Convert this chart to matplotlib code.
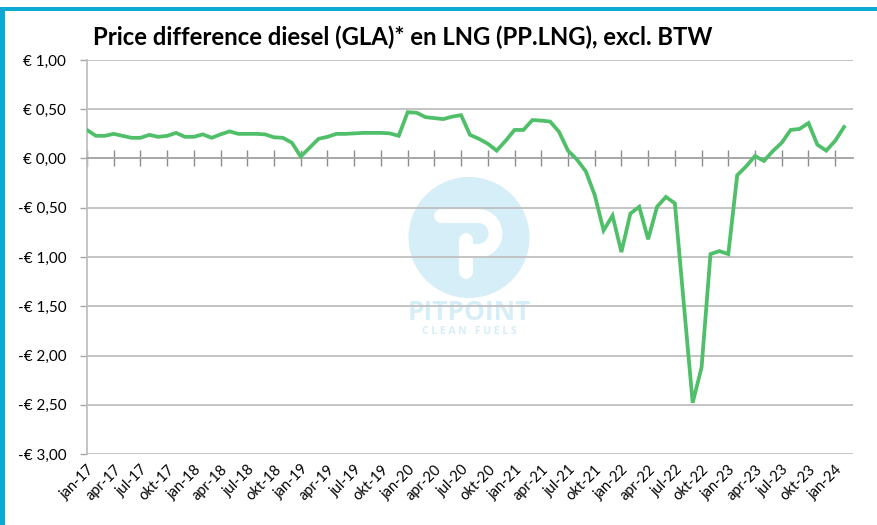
import numpy as np
import matplotlib
matplotlib.use("Agg")
import matplotlib.pyplot as plt
from matplotlib.patches import Circle, Rectangle

# ---------------- data ----------------
title = "Price difference diesel (GLA)* en LNG (PP.LNG), excl. BTW"

# monthly values jan-17 .. feb-24 (EUR)
price_diff = [
    0.29, 0.23, 0.23, 0.25, 0.23, 0.21, 0.21, 0.24, 0.22, 0.23, 0.26, 0.22,   # 2017
    0.22, 0.245, 0.21, 0.245, 0.275, 0.25, 0.25, 0.25, 0.245, 0.215, 0.21, 0.16,  # 2018
    0.02, 0.11, 0.20, 0.22, 0.25, 0.25, 0.255, 0.26, 0.26, 0.26, 0.255, 0.23,  # 2019
    0.47, 0.465, 0.42, 0.41, 0.40, 0.425, 0.44, 0.24, 0.20, 0.15, 0.08, 0.18,  # 2020
    0.29, 0.29, 0.39, 0.385, 0.375, 0.27, 0.08, -0.01, -0.13, -0.37, -0.73, -0.58,  # 2021
    -0.95, -0.56, -0.49, -0.82, -0.49, -0.39, -0.455, -1.47, -2.48, -2.12, -0.97, -0.94,  # 2022
    -0.97, -0.17, -0.08, 0.025, -0.025, 0.075, 0.16, 0.29, 0.30, 0.36, 0.14, 0.08,  # 2023
    0.18, 0.32,  # 2024
]

tick_labels = []
for yy in range(17, 25):
    for m in ["jan", "apr", "jul", "okt"]:
        tick_labels.append(f"{m}-{yy}")
tick_labels = tick_labels[:29]  # jan-17 .. jan-24
tick_pos = np.arange(len(tick_labels)) * 3

y_ticks = [1.0, 0.5, 0.0, -0.5, -1.0, -1.5, -2.0, -2.5, -3.0]


def eur(v):
    s = f"{abs(v):.2f}".replace(".", ",")
    return ("-€ " if v < 0 else "€ ") + s


# ---------------- style ----------------
W, H = 877, 525
FONT = "Lato"
GREEN = "#4fbf69"
GRID = "#bfbfbf"
CYAN = "#0aaad2"
WM = "#d6eef7"

fig = plt.figure(figsize=(W / 100, H / 100), dpi=100)
fig.patch.set_facecolor("white")

# background overlay in pixel coordinates (frame + watermark)
bg = fig.add_axes([0, 0, 1, 1], zorder=0)
bg.set_xlim(0, W)
bg.set_ylim(H, 0)
bg.axis("off")
bg.add_patch(Rectangle((0, 7), W, 4, color=CYAN, lw=0))
bg.add_patch(Rectangle((0, 7), 5, H - 7, color=CYAN, lw=0))

# watermark logo
bg.add_patch(Circle((469, 237.5), 60.5, color=WM, lw=0))
t = np.linspace(-np.pi / 2, np.pi / 2, 40)
bowl_x = np.concatenate([[441, 478], 478 + 17.5 * np.cos(t)[::-1], [466]])
bowl_y = np.concatenate([[216, 216], 233.5 - 17.5 * np.sin(t)[::-1], [251]])
bg.plot(bowl_x, bowl_y, color="white", lw=10, solid_capstyle="round",
        solid_joinstyle="round")
bg.plot([466, 466], [240, 272], color="white", lw=10, solid_capstyle="round")
bg.text(469, 313, "PITPOINT", color=WM, fontsize=19, family="Open Sans",
        fontweight="bold", ha="center", va="center")
bg.text(469, 331, "C L E A N   F U E L S", color=WM, fontsize=7.5,
        family="Open Sans", fontweight="bold", ha="center", va="center")

fig.text(93 / W, 1 - 37 / H, title, fontsize=17.2, fontweight="bold",
         family=FONT, ha="left", va="center")

# main axes
left, right, top, bottom = 87, 853, 60, 454
ax = fig.add_axes([left / W, 1 - bottom / H, (right - left) / W, (bottom - top) / H],
                  zorder=1)
ax.set_facecolor("none")

x = np.arange(len(price_diff))
ax.plot(x, price_diff, color=GREEN, lw=2.7, solid_joinstyle="miter", zorder=3)

ax.set_xlim(0, 86)
ax.set_ylim(-3.0, 1.0)
ax.set_yticks(y_ticks)
ax.set_yticklabels([eur(v) for v in y_ticks], family=FONT, fontsize=11)
ax.yaxis.grid(True, color=GRID, lw=1.3)
ax.set_axisbelow(True)

for s in ["top", "right"]:
    ax.spines[s].set_visible(False)
ax.spines["left"].set_color(GRID)
ax.spines["left"].set_linewidth(1.3)
ax.tick_params(axis="y", length=5, width=1.0, color="#a6a6a6", pad=10)

# x axis crossing at zero with crossing tick marks
ax.spines["bottom"].set_position(("data", 0))
ax.spines["bottom"].set_color("#a6a6a6")
ax.spines["bottom"].set_linewidth(1.3)
ax.set_xticks(tick_pos)
ax.tick_params(axis="x", direction="inout", length=11, width=1.0,
               color="#8c8c8c", labelbottom=False)

sec = ax.secondary_xaxis("bottom")
sec.set_xticks(tick_pos)
sec.set_xticklabels(tick_labels, rotation=45, ha="right", rotation_mode="anchor",
                    family=FONT, fontsize=10.5)
sec.tick_params(length=0, pad=6)
sec.spines["bottom"].set_visible(False)

fig.savefig("out.png", dpi=100)
